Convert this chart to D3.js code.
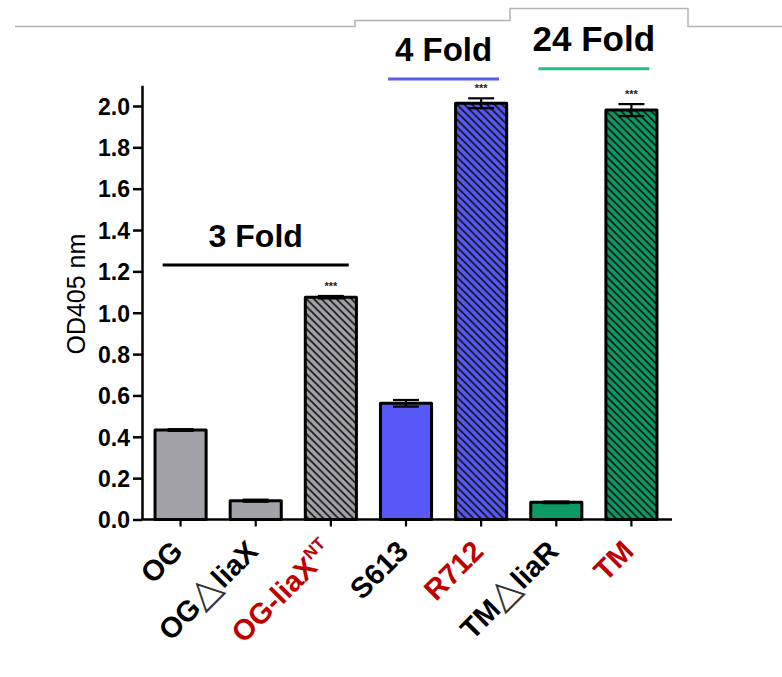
<!DOCTYPE html>
<html>
  <head>
    <meta charset="utf-8">
    <title>OD405 bar chart</title>
    <style>
      body { margin: 0; background: #fff; }
      svg text { font-family: "Liberation Sans", Arial, sans-serif; }
    </style>
  </head>
  <body>
    <div id="chart"></div>
    <script src="https://d3js.org/d3.v7.min.js"></script>
    <script>
// data
const categories = ["OG", "OG△liaX", "OG-liaXNT", "S613", "R712", "TM△liaR", "TM"];
const means = [0.433, 0.091, 1.075, 0.562, 2.013, 0.083, 1.98];
const errors = [0.004, 0.005, 0.006, 0.016, 0.024, 0.004, 0.029];
const hatched = [false, false, true, false, true, false, true];
const stars = ["", "", "***", "", "***", "", "***"];
const barColors = ["#a2a2a8", "#a2a2a8", "#a2a2a8", "#5858f6", "#5858f6", "#0e9a64", "#0e9a64"];
const labelColors = ["#000", "#000", "#c00000", "#000", "#c00000", "#000", "#c00000"];
const yTicks = [0, 0.2, 0.4, 0.6, 0.8, 1.0, 1.2, 1.4, 1.6, 1.8, 2.0];

// label pieces: [text, kind]
const labelParts = [
  [["OG", ""]],
  [["OG", ""], ["△", "tri"], ["liaX", ""]],
  [["OG-liaX", ""], ["NT", "sup"]],
  [["S613", ""]],
  [["R712", ""]],
  [["TM", ""], ["△", "tri"], ["liaR", ""]],
  [["TM", ""]]
];

// fold annotations: first/last bar index, level on the y scale
const foldLabels = ["3 Fold", "4 Fold", "24 Fold"];
const foldFirst = [0, 3, 5];
const foldLast = [2, 4, 6];
const foldLevel = [1.231, 2.13, 2.18];
const foldColors = ["#000", "#5a5aee", "#22c07e"];
const foldFont = [32, 33, 35];

const W = 782, H = 677;
const svg = d3.select('#chart')
  .append('svg')
  .attr('width', W)
  .attr('height', H);

// decorative header line at the top of the slide
svg.append('path')
  .attr('d', 'M15,26.5H355V20.5H510V8.5H688V26.5H782')
  .attr('fill', 'none')
  .attr('stroke', '#b4b4b4')
  .attr('stroke-width', 1.5);

const x = d3.scaleBand()
  .domain(categories)
  .range([143, 669])
  .paddingInner(0.32)
  .paddingOuter(0.16);

const y = d3.scaleLinear()
  .domain([0, 2.1])
  .range([519.5, 85.3]);

// hatch patterns ("\" direction)
const defs = svg.append('defs');
const h = 7.5;
const hatchColors = Array.from(new Set(barColors.filter((c, i) => hatched[i])));
hatchColors.forEach((c, i) => {
  const p = defs.append('pattern')
    .attr('id', 'hatch' + i)
    .attr('patternUnits', 'userSpaceOnUse')
    .attr('width', h)
    .attr('height', h);
  p.append('rect').attr('width', h).attr('height', h).attr('fill', c);
  p.append('path')
    .attr('d', `M-1,-1L${h + 1},${h + 1}M-2,${h - 2}L2,${h + 2}M${h - 2},-2L${h + 2},2`)
    .attr('stroke', '#111')
    .attr('stroke-width', 1.6);
});
const fillFor = i => hatched[i] ? `url(#hatch${hatchColors.indexOf(barColors[i])})` : barColors[i];

// bars
svg.selectAll('.bar')
  .data(means)
  .enter()
  .append('rect')
  .attr('class', 'bar')
  .attr('x', (d, i) => x(categories[i]))
  .attr('width', x.bandwidth())
  .attr('y', d => y(d))
  .attr('height', d => y(0) - y(d))
  .attr('fill', (d, i) => fillFor(i))
  .attr('stroke', '#000')
  .attr('stroke-width', 3)
  .attr('stroke-linejoin', 'round');

// error bars
const capW = 26;
const eb = svg.selectAll('.err')
  .data(means)
  .enter()
  .append('g')
  .attr('class', 'err')
  .attr('transform', (d, i) => `translate(${x(categories[i]) + x.bandwidth() / 2},0)`)
  .attr('stroke', '#000')
  .attr('stroke-width', 2.2);
eb.append('line')
  .attr('y1', (d, i) => y(d + errors[i]))
  .attr('y2', (d, i) => y(d - errors[i]));
eb.append('line')
  .attr('x1', -capW / 2).attr('x2', capW / 2)
  .attr('y1', (d, i) => y(d + errors[i]))
  .attr('y2', (d, i) => y(d + errors[i]));
eb.append('line')
  .attr('x1', -capW / 2).attr('x2', capW / 2)
  .attr('y1', (d, i) => y(d - errors[i]))
  .attr('y2', (d, i) => y(d - errors[i]));

// significance stars
svg.selectAll('.star')
  .data(stars)
  .enter()
  .append('text')
  .attr('class', 'star')
  .attr('x', (d, i) => x(categories[i]) + x.bandwidth() / 2)
  .attr('y', (d, i) => y(means[i] + errors[i]) - 6)
  .attr('text-anchor', 'middle')
  .style('font-size', '11px')
  .style('font-weight', 'bold')
  .style('fill', '#222')
  .text(d => d);

// y axis
const yAxis = svg.append('g')
  .attr('transform', 'translate(142,0)')
  .call(d3.axisLeft(y).tickValues(yTicks).tickFormat(d3.format('.1f')).tickSize(9).tickSizeOuter(0).tickPadding(3));
yAxis.select('.domain').attr('stroke-width', 2.5);
yAxis.selectAll('.tick line').attr('stroke-width', 2.5);
yAxis.selectAll('.tick text')
  .style('font-size', '23px')
  .style('font-weight', 'bold')
  .attr('dy', '0.36em')
  .attr('fill', '#000');

// x axis
const xAxis = svg.append('g')
  .attr('transform', `translate(0,${y(0)})`)
  .call(d3.axisBottom(x).tickSize(7).tickSizeOuter(0).tickFormat(''));
xAxis.select('.domain').remove();
xAxis.selectAll('.tick line').attr('stroke-width', 2.2);
xAxis.append('line')
  .attr('x1', 141).attr('x2', 672)
  .attr('stroke', '#000')
  .attr('stroke-width', 2.5);

// x tick labels, rotated
const labels = svg.selectAll('.xlab')
  .data(labelParts)
  .enter()
  .append('text')
  .attr('class', 'xlab')
  .attr('transform', (d, i) => `translate(${x(categories[i]) + x.bandwidth() / 2 + 4},553) rotate(-45)`)
  .attr('text-anchor', 'end')
  .style('font-size', '29px')
  .style('font-weight', 'bold')
  .style('fill', (d, i) => labelColors[i]);
labels.selectAll('tspan')
  .data(d => d)
  .enter()
  .append('tspan')
  .text(d => d[0])
  .attr('dy', d => d[1] === 'sup' ? -12 : null)
  .style('font-size', d => d[1] === 'sup' ? '17px' : d[1] === 'tri' ? '38px' : null)
  .style('font-weight', d => d[1] === 'tri' ? 'normal' : null)
  .style('font-family', d => d[1] === 'tri' ? '"DejaVu Sans", sans-serif' : null)
  .style('fill', d => d[1] === 'tri' ? '#333' : null);

// y axis title
svg.append('text')
  .attr('transform', `translate(85,${y(1.09)}) rotate(-90)`)
  .attr('text-anchor', 'middle')
  .style('font-size', '25px')
  .text('OD405 nm');

// fold annotations
foldLabels.forEach((t, i) => {
  const x1 = x(categories[foldFirst[i]]) + x.bandwidth() * 0.15;
  const x2 = x(categories[foldLast[i]]) + x.bandwidth() * 0.85;
  svg.append('line')
    .attr('x1', x1).attr('x2', x2)
    .attr('y1', y(foldLevel[i])).attr('y2', y(foldLevel[i]))
    .attr('stroke', foldColors[i])
    .attr('stroke-width', 3);
  svg.append('text')
    .attr('x', (x1 + x2) / 2)
    .attr('y', y(foldLevel[i]) - 18)
    .attr('text-anchor', 'middle')
    .style('font-size', foldFont[i] + 'px')
    .style('font-weight', 'bold')
    .text(t);
});
    </script>
  </body>
</html>
